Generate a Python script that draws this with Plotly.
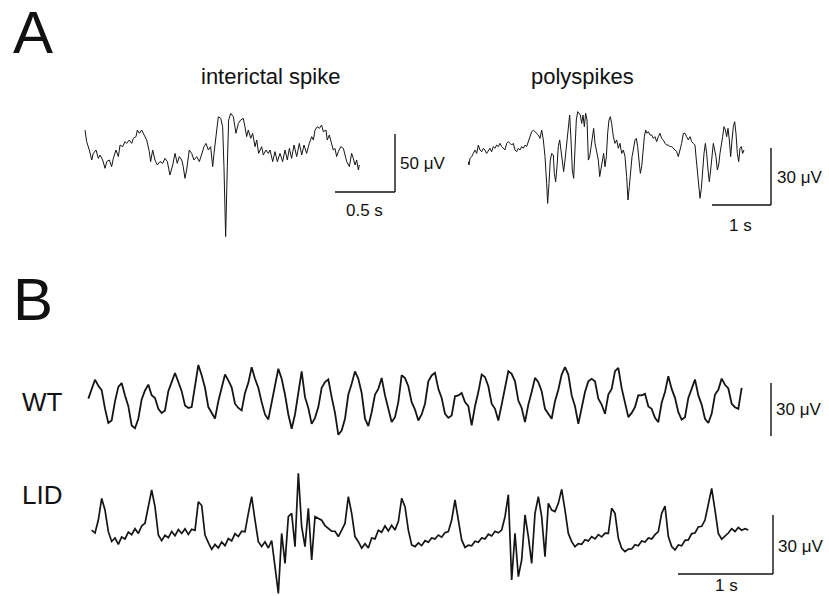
import plotly.graph_objects as go

W, H = 829, 596

# ---------------- data (time in s, amplitude in µV) ----------------
spike_t = [0.000, 0.014, 0.036, 0.056, 0.069, 0.092, 0.111, 0.125, 0.147, 0.167, 0.181, 0.203, 0.222, 0.236,
           0.258, 0.278, 0.292, 0.314, 0.333, 0.347, 0.369, 0.389, 0.403, 0.425, 0.436, 0.453, 0.472, 0.492,
           0.514, 0.536, 0.547, 0.564, 0.583, 0.603, 0.625, 0.647, 0.667, 0.686, 0.708, 0.731, 0.750, 0.769,
           0.786, 0.806, 0.819, 0.833, 0.847, 0.869, 0.889, 0.908, 0.931, 0.953, 0.972, 0.992, 1.008, 1.028,
           1.047, 1.064, 1.075, 1.092, 1.111, 1.131, 1.147, 1.158, 1.172, 1.186, 1.197, 1.214, 1.236, 1.258,
           1.278, 1.297, 1.319, 1.333, 1.347, 1.361, 1.381, 1.397, 1.417, 1.431, 1.447, 1.472, 1.486, 1.508,
           1.528, 1.542, 1.564, 1.583, 1.603, 1.625, 1.647, 1.667, 1.686, 1.703, 1.722, 1.742, 1.764, 1.786,
           1.806, 1.825, 1.847, 1.869, 1.889, 1.903, 1.917, 1.936, 1.953, 1.972, 1.986, 2.008, 2.019, 2.036,
           2.056, 2.069, 2.083, 2.097, 2.111, 2.131, 2.153, 2.167, 2.181, 2.203, 2.222, 2.236, 2.250, 2.264,
           2.278, 2.286]
spike_uv = [21.5, 11.5, 4.3, -4.3, 1.4, 4.3, -2.9, 0, -4.3, -11.5, -5.7, -4.3, -10, -2.9,
            4.3, -1.4, 8.6, 7.2, 11.5, 10, 12.9, 10, 14.4, 15.8, 21.5, 18.7, 21.5, 17.2,
            12.9, 2.9, -5.7, 4.3, -4.3, -8.6, -5.7, -7.2, -2.9, -5.7, -17.2, -8.6, 1.4, -7.2,
            -1.4, -4.3, -10, -20.1, -12.9, 4.3, 1.4, -4.3, -1.4, -5.7, 1.4, 7.2, 10, 4.3,
            7.2, -10, 1.4, 18.7, 33, 31.6, 24.4, -10, -70.3, -10, 30.1, 35.9, 33, 18.7,
            27.3, 30.1, 31.6, 24.4, 15.8, 21.5, 14.4, 18.7, 7.2, 12.9, 1.4, 7.2, 0, 4.3,
            1.4, 4.3, -5.7, 2.9, -5.7, 1.4, -5.7, 4.3, -4.3, 5.7, -2.9, 8.6, -1.4, 10,
            0, 8.6, 1.4, 10, 15.8, 12.9, 21.5, 24.4, 23, 25.8, 20.1, 21.5, 12.9, 17.2,
            10, 4.3, 5.7, -1.4, 2.9, 7.2, 5.7, -1.4, -5.7, -10, 1.4, -2.9, -8.6, -4.3,
            -12.9, -8.6]

poly_t = [0.006, 0.017, 0.034, 0.062, 0.090, 0.119, 0.147, 0.175, 0.203, 0.232, 0.260, 0.288, 0.316, 0.345,
          0.373, 0.401, 0.429, 0.458, 0.486, 0.514, 0.542, 0.571, 0.599, 0.627, 0.655, 0.684, 0.712, 0.740,
          0.768, 0.797, 0.825, 0.853, 0.881, 0.910, 0.938, 0.966, 0.994, 1.023, 1.051, 1.079, 1.107, 1.136,
          1.164, 1.192, 1.220, 1.249, 1.277, 1.305, 1.333, 1.350, 1.373, 1.395, 1.418, 1.446, 1.463, 1.486,
          1.508, 1.531, 1.554, 1.576, 1.599, 1.621, 1.644, 1.672, 1.701, 1.723, 1.746, 1.768, 1.791, 1.814,
          1.836, 1.859, 1.881, 1.904, 1.927, 1.949, 1.972, 1.994, 2.017, 2.040, 2.062, 2.085, 2.107, 2.130,
          2.153, 2.181, 2.209, 2.232, 2.254, 2.277, 2.299, 2.322, 2.345, 2.367, 2.390, 2.412, 2.435, 2.463,
          2.492, 2.520, 2.548, 2.576, 2.605, 2.633, 2.661, 2.689, 2.712, 2.734, 2.757, 2.780, 2.802, 2.831,
          2.853, 2.876, 2.898, 2.921, 2.944, 2.966, 2.989, 3.011, 3.034, 3.056, 3.085, 3.113, 3.141, 3.169,
          3.198, 3.226, 3.254, 3.282, 3.311, 3.339, 3.367, 3.395, 3.424, 3.452, 3.480, 3.508, 3.537, 3.565,
          3.593, 3.621, 3.650, 3.678, 3.706, 3.734, 3.763, 3.791, 3.819, 3.847, 3.870, 3.893, 3.915, 3.932,
          3.955, 3.977, 4.000, 4.023, 4.045, 4.068, 4.090, 4.113, 4.136, 4.158, 4.181, 4.203, 4.226, 4.249,
          4.271, 4.294, 4.316, 4.339, 4.362, 4.384, 4.407, 4.429, 4.452, 4.475, 4.497, 4.520, 4.542, 4.565,
          4.588, 4.610, 4.633, 4.655, 4.678]
poly_uv = [-6.1, -7.9, -4.4, -3.5, -1.8, 0, -1.8, 2.6, 0, -0.9, 0.9, 0, -1.8, 0,
           0.9, -0.9, 1.8, 0.9, 2.6, 1.8, 3.5, 1.8, 0.9, 0, 3.5, 4.4, 3.5, 2.6,
           3.5, 0, -0.9, 0.9, 0, 1.8, 0.9, 2.6, 1.8, 4.4, 7.0, 9.6, 10.5, 9.6,
           8.8, 7.9, 6.1, 10.5, 5.3, -3.5, -17.5, -28.1, -17.5, -5.3, -1.8, -2.6, -12.3, -16.7,
           -8.8, 1.8, 5.3, 0, -7.0, -11.4, -5.3, 3.5, 10.5, 18.4, 5.3, -10.5, -14.9, 0,
           15.8, 20.2, 19.3, 18.4, 14.0, 18.4, 12.3, 19.3, 15.8, -5.3, -3.5, 1.8, 7.0, 11.4,
           3.5, -1.8, -5.3, -14.0, -10.5, -7.0, -1.8, -8.8, -3.5, 8.8, 15.8, 17.5, 14.0, 7.0,
           3.5, 5.3, 0.9, 3.5, -1.8, 0, -3.5, -14.0, -26.3, -19.3, -8.8, -3.5, 0, 5.3,
           6.1, 1.8, -5.3, -12.3, -8.8, 0, 7.0, 10.5, 8.8, 9.6, 7.9, 7.9, 6.1, 7.0,
           4.4, 7.0, 8.8, 6.1, 5.3, 3.5, 2.6, 2.6, 1.8, 1.8, 0.9, 0, -0.9, -3.5,
           0, 3.5, 8.8, 8.8, 7.0, 5.3, 7.0, 4.4, 3.5, 2.6, -5.3, -12.3, -20.2, -25.4,
           -20.2, -8.8, -1.8, 3.5, -1.8, -10.5, -16.7, -10.5, -3.5, 3.5, 0, -3.5, -10.5, -7.9,
           -1.8, 1.8, 7.0, 12.3, 10.5, 7.0, 11.4, 5.3, -3.5, 5.3, 12.3, 14.9, 8.8, -1.8,
           -6.1, 0.9, 1.8, -1.8, 0]

DT_B = 10 / 285
wt_uv = [0.8, 6.2, 11.5, 8.1, 5.6, -4.9, -13.0, -11.6, -0.8, 7.4,
         9.6, 2.6, -3.5, -14.4, -16.0, -10.6, 0.3, 5.4, 8.7, 2.7,
         1.1, -5.0, -7.4, -5.9, 5.0, 10.1, 15.3, 10.2, 5.0, -3.1,
         -4.5, -4.0, 8.7, 19.8, 14.0, 6.9, -4.0, -7.3, -10.5, -0.7,
         6.3, 14.4, 11.1, 7.2, -2.1, -4.5, -5.9, 4.0, 9.7, 18.5,
         12.0, 6.9, -1.2, -8.2, -11.0, -0.7, 7.9, 17.7, 12.0, 3.1,
         -8.2, -16.3, -8.2, 4.5, 16.2, 1.6, -4.5, -13.5, -10.1, -4.0,
         6.9, 10.1, 11.6, 1.6, -7.3, -19.7, -17.3, -10.6, 3.1, 9.2,
         16.2, 12.0, 4.0, -10.6, -14.8, -6.9, 3.1, 6.3, 12.5, 2.6,
         -4.5, -12.5, -9.7, -1.2, 14.0, 12.4, 7.8, -1.2, -5.4, -11.6,
         -8.2, -2.1, 10.6, 13.9, 15.4, 6.3, 1.2, -7.8, -10.1, -8.7,
         2.1, 2.6, 4.0, -1.2, -3.5, -14.4, -3.5, 4.5, 14.4, 13.0,
         7.8, -2.1, -5.0, -11.6, -2.6, 6.3, 16.3, 14.8, 10.6, -0.3,
         -4.5, -12.5, -2.6, 4.5, 12.5, 10.1, 5.0, -5.0, -7.7, -10.6,
         -0.7, 5.8, 14.4, 18.6, 14.4, 2.6, -3.5, -13.5, -4.5, 4.5,
         10.6, 12.0, 10.6, 0.7, -2.6, -7.8, 3.1, 6.3, 16.3, 18.2,
         6.7, -0.7, -9.7, -7.3, -4.0, 2.7, 2.6, 3.5, -3.7, -5.0,
         -10.1, -12.5, -1.6, 4.5, 13.5, 6.3, 1.2, -6.9, -11.1, -9.7,
         1.2, 6.3, 11.6, 2.6, -2.6, -10.6, -13.0, -7.8, 3.1, 5.8,
         12.1, 8.6, 6.5, -2.1, -4.1, -5.0, 6.9]
lid_uv = [2.5, 1.0, 7.6, 18.6, 12.7, 1.7, -3.3, -1.5, -4.8, -1.0,
          -2.0, 1.5, 0.2, 3.2, 0.8, 4.6, 6.0, 13.6, 22.9, 14.4,
          0, -2.9, -0.1, -1.4, 1.8, -0.4, 2.8, 0.8, 3.1, 0.3,
          2.9, 2.4, 16.9, 15.0, 0, -3.9, -7.3, -4.8, -6.6, -3.5,
          -5.4, -1.8, -3.0, 0.7, -0.8, 1.9, 1.6, 11, 19.5, 7.6,
          -3.4, -5.9, -3.5, -6.6, -2.8, -16.1, -29.7, 0.8, -14.4, 9.3,
          11, -5.9, 31.4, 4.2, -5.9, 13.6, -12.7, 9.3, 8.4, 7.5,
          4.8, 3.6, 2.0, 1.9, -0.8, 2.5, 5.9, 19.5, 11, -0.8,
          -3.4, -6.7, -4.4, -6.6, -1.5, -2.0, 2.4, 1.4, 4.6, 2.1,
          4.9, 2.6, 6.8, 18.6, 14.4, 2.5, -5.1,
          -5.9, -4.0, -5.4, -2.9, -3.7, -1.5, -2.0, 0, -1.1, 1.2,
          1.7, 7.6, 17.8, 7.6, -2.5, -6.3, -5.2, -5.5, -3.2, -3.7,
          -1.5, -2.0, 0.4, -0.5, 1.9, 1.1, 2.5, 9.3, 20.5, -22.9,
          0.8, -21.2, -12.7, 10.2, -0.8, -14.4, 11, 19.5, 9.3, -11,
          16.1, 12.7, 11.9, 16.1, 23.2, 12.7, 0.8, -3.4, -5.9, -4.4,
          -4.7, -2.4, -3.0, -0.8, -2.0, 0.2, -1.0, 0.9, 0.8, 13.6,
          11, -1.7, -6.8, -8.5, -7.2, -7.1, -4.9, -5.5, -3.0, -3.6,
          -1.5, -2.0, 0.2, 1.7, 11, 14.7, -0.8, -5.9, -7.6, -5.1,
          -5.5, -2.7, -2.5, 0.7, 1.0, 4.1, 4.4, 7.6, 16.1, 23.7,
          12.7, 0.8, -2.1, -0.5, 1.0, 3.2, 1.8, 3.8, 2.4, 3.2,
          2.5]

wt_t = [i * DT_B for i in range(len(wt_uv))]
lid_t = [i * DT_B for i in range(len(lid_uv))]

SPIKE_BAR_S, SPIKE_BAR_UV = 0.5, 50
POLY_BAR_S, POLY_BAR_UV = 1, 30
WT_BAR_UV = 30
LID_BAR_S, LID_BAR_UV = 1, 30

# ---------------- layout geometry (pixels) ----------------
# box: left, right, top, bottom; x0: pixel of t=0; pps: px per s; y0: pixel of 0 µV; ppu: px per µV
panels = {
    "spike": dict(box=(78, 452, 95, 250), x0=85.0, pps=120.0, y0=155.0, ppu=1.16),
    "poly": dict(box=(455, 829, 95, 245), x0=468.0, pps=59.0, y0=150.0, ppu=1.9),
    "wt": dict(box=(80, 829, 350, 450), x0=88.33, pps=95.0, y0=400.0, ppu=1.767),
    "lid": dict(box=(80, 829, 450, 596), x0=91.67, pps=95.0, y0=535.0, ppu=1.967),
}


def t_of(p, px):
    return (px - p["x0"]) / p["pps"]


def uv_of(p, py):
    return (p["y0"] - py) / p["ppu"]


fig = go.Figure()
LINE = "#151515"
layout_axes = {}
shapes = []
order = ["spike", "poly", "wt", "lid"]
traces = {"spike": (spike_t, spike_uv, 1.0), "poly": (poly_t, poly_uv, 1.0),
          "wt": (wt_t, wt_uv, 1.8), "lid": (lid_t, lid_uv, 1.7)}

for i, key in enumerate(order, start=1):
    p = panels[key]
    l, r, tp, b = p["box"]
    sx = "" if i == 1 else str(i)
    layout_axes["xaxis" + sx] = dict(domain=[l / W, r / W], range=[t_of(p, l), t_of(p, r)], visible=False,
                                     fixedrange=True)
    layout_axes["yaxis" + sx] = dict(domain=[1 - b / H, 1 - tp / H], range=[uv_of(p, b), uv_of(p, tp)],
                                     visible=False, fixedrange=True)
    xs, ys, w = traces[key]
    fig.add_trace(go.Scatter(x=xs, y=ys, mode="lines", line=dict(color=LINE, width=w),
                             xaxis="x" + sx, yaxis="y" + sx, hoverinfo="skip", showlegend=False))


def bar(i, x0, y0, x1, y1):
    sx = "" if i == 1 else str(i)
    shapes.append(dict(type="line", xref="x" + sx, yref="y" + sx, x0=x0, y0=y0, x1=x1, y1=y1,
                       line=dict(color="#111", width=1.4)))


# scale bars
p = panels["spike"]
bt, bu = t_of(p, 335), uv_of(p, 192)
bar(1, bt, bu, bt + SPIKE_BAR_S, bu)
bar(1, bt + SPIKE_BAR_S, bu, bt + SPIKE_BAR_S, bu + SPIKE_BAR_UV)

p = panels["poly"]
bt, bu = t_of(p, 712), uv_of(p, 205)
bar(2, bt, bu, bt + POLY_BAR_S, bu)
bar(2, bt + POLY_BAR_S, bu, bt + POLY_BAR_S, bu + POLY_BAR_UV)

p = panels["wt"]
bt, bu = t_of(p, 771), uv_of(p, 436)
bar(3, bt, bu, bt, bu + WT_BAR_UV)

p = panels["lid"]
bt, bu = t_of(p, 678), uv_of(p, 574)
bar(4, bt, bu, bt + LID_BAR_S, bu)
bar(4, bt + LID_BAR_S, bu, bt + LID_BAR_S, bu + LID_BAR_UV)

FONT = "Arial, 'Liberation Sans', sans-serif"


def label(text, px, py, size, xanchor="left"):
    return dict(text=text, x=px / W, y=1 - py / H, xref="paper", yref="paper", showarrow=False,
                xanchor=xanchor, yanchor="middle", font=dict(family=FONT, size=size, color="#111"))


annotations = [
    label("A", 11, 32, 60),
    label("B", 11, 299, 60),
    label("interictal spike", 270, 77, 22, "center"),
    label("polyspikes", 582, 77, 22, "center"),
    label("50 μV", 398, 164, 17),
    label("0.5 s", 364, 210, 17, "center"),
    label("30 μV", 775, 177, 17),
    label("1 s", 740, 226, 17, "center"),
    label("30 μV", 774, 410, 17),
    label("WT", 20, 402, 26),
    label("LID", 20, 495, 26),
    label("30 μV", 776, 546, 17),
    label("1 s", 726, 585, 17, "center"),
]

fig.update_layout(width=W, height=H, margin=dict(l=0, r=0, t=0, b=0), paper_bgcolor="white",
                  plot_bgcolor="rgba(0,0,0,0)", shapes=shapes, annotations=annotations, **layout_axes)

fig.write_html("out.html", config={"displayModeBar": False},
               post_script="document.body.style.margin='0';document.body.style.overflow='hidden';")
